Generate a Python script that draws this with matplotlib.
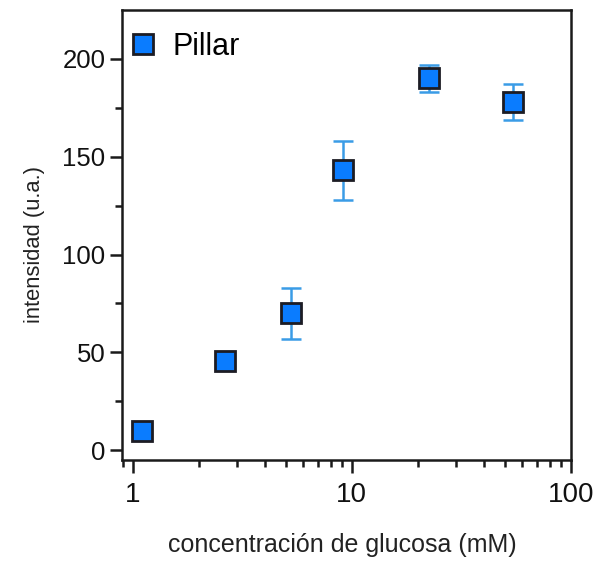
import matplotlib
matplotlib.use("Agg")
import matplotlib.pyplot as plt
from matplotlib.ticker import LogLocator, FixedLocator, NullFormatter

# glucose concentration (mM), intensity (a.u.) and its error
glucose = [1.10, 2.64, 5.28, 9.1, 22.5, 54.5]
intensity = [10, 45.5, 70, 143, 190, 178]
error = [0, 0, 13, 15, 7, 9]
series_label = "Pillar"
x_label = "concentración de glucosa (mM)"
y_label = "intensidad (u.a.)"
x_ticks = [1, 10, 100]
x_tick_labels = ["1", "10", "100"]
y_ticks = [0, 50, 100, 150, 200]
y_minor_ticks = [25, 75, 125, 175]

plt.rcParams["font.family"] = ["Liberation Sans", "DejaVu Sans"]

fig = plt.figure(figsize=(5.99, 5.61), dpi=100)
ax = fig.add_axes([122 / 599, 1 - 460 / 561, (571 - 122) / 599, (460 - 10) / 561])

face = "#0a7cff"
edge = "#1c1c24"
ebar = "#3a9ce6"
ink = "#1a1a1a"

ax.errorbar(glucose, intensity, yerr=error, fmt="none", ecolor=ebar,
            elinewidth=1.8, capsize=7.5, capthick=1.8, zorder=2)
ax.plot(glucose, intensity, linestyle="none", marker="s", markersize=14,
        markerfacecolor=face, markeredgecolor=edge, markeredgewidth=2.0,
        label=series_label, zorder=3)

ax.set_xscale("log")
ax.set_xlim(0.894, 100)
ax.set_ylim(-5, 225)

ax.xaxis.set_major_locator(FixedLocator(x_ticks))
ax.set_xticklabels(x_tick_labels)
ax.xaxis.set_minor_locator(LogLocator(base=10, subs=range(2, 10)))
ax.xaxis.set_minor_formatter(NullFormatter())
ax.yaxis.set_major_locator(FixedLocator(y_ticks))
ax.yaxis.set_minor_locator(FixedLocator(y_minor_ticks))

for s in ["left", "bottom", "right", "top"]:
    ax.spines[s].set_linewidth(1.8)
    ax.spines[s].set_color(ink)

ax.tick_params(axis="both", which="major", direction="out", length=9, width=1.8,
               color=ink, labelcolor="#111111")
ax.tick_params(axis="both", which="minor", direction="out", length=5, width=1.8,
               color=ink)
ax.tick_params(axis="x", which="major", labelsize=20, pad=7)
ax.tick_params(axis="y", which="major", labelsize=18.5, pad=3)

ax.set_xlabel(x_label, fontsize=18, color="#222222")
ax.set_ylabel(y_label, fontsize=15.8, color="#222222")
ax.xaxis.set_label_coords(0.49, -0.162)
ax.yaxis.set_label_coords(-0.172, 0.478)

leg = ax.legend(loc="upper left", bbox_to_anchor=(-0.01, 0.982), frameon=False,
                fontsize=22, handletextpad=0.55, borderaxespad=0.2,
                handlelength=0.8, numpoints=1, borderpad=0.25)

fig.savefig("out.png", dpi=100, facecolor="white")
